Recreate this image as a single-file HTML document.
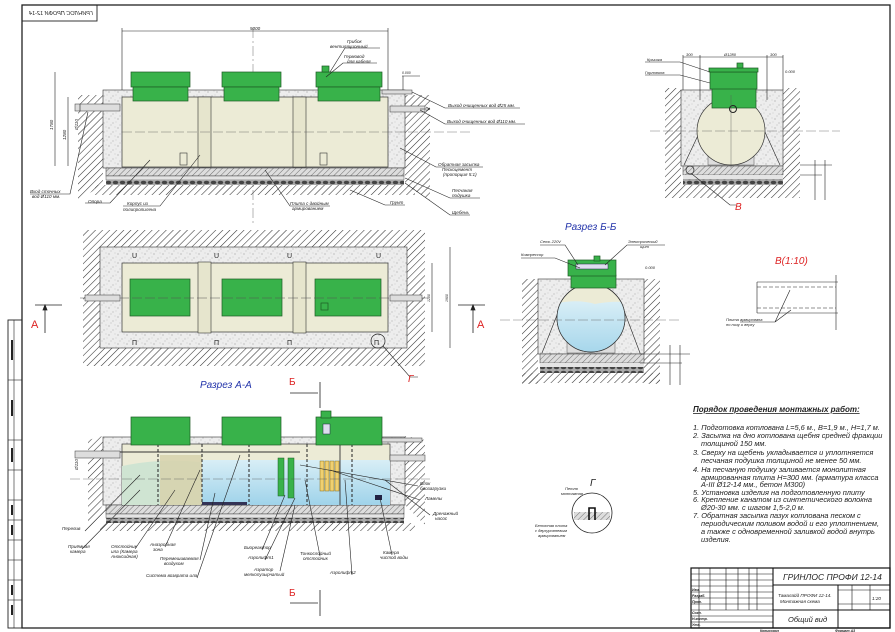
<!DOCTYPE html>
<html><head><meta charset="utf-8">
<style>
html,body{margin:0;padding:0;background:#fff;}
svg{display:block;font-family:"Liberation Sans","DejaVu Sans",sans-serif;}
.l{font-size:4.6px;font-style:italic;fill:#222;}
.t{font-size:7.4px;font-style:italic;fill:#222;}
.ln{stroke:#222;stroke-width:0.6;fill:none;}
</style></head><body>
<svg width="895" height="632" viewBox="0 0 895 632" xmlns="http://www.w3.org/2000/svg">
<defs>
<pattern id="h" width="5" height="5" patternUnits="userSpaceOnUse" patternTransform="rotate(45)"><line x1="0" y1="0" x2="0" y2="5" stroke="#333" stroke-width="1.1"/></pattern>
<pattern id="sp" width="9" height="9" patternUnits="userSpaceOnUse"><rect width="9" height="9" fill="#ededed"/><circle cx="1" cy="2" r="0.5" fill="#777"/><circle cx="5" cy="6" r="0.45" fill="#888"/><circle cx="7" cy="1" r="0.4" fill="#999"/><circle cx="3" cy="8" r="0.4" fill="#777"/><circle cx="8" cy="5" r="0.35" fill="#999"/></pattern>
<pattern id="sl" width="4" height="4" patternUnits="userSpaceOnUse" patternTransform="rotate(45)"><rect width="4" height="4" fill="#ddd"/><line x1="0" y1="0" x2="0" y2="4" stroke="#555" stroke-width="0.8"/></pattern>
<pattern id="gr" width="7" height="5" patternUnits="userSpaceOnUse"><rect width="7" height="5" fill="#aaa"/><ellipse cx="3.5" cy="2.5" rx="2.8" ry="1.8" fill="#444"/></pattern>
<linearGradient id="w" x1="0" y1="0" x2="0" y2="1"><stop offset="0" stop-color="#d8eef6"/><stop offset="1" stop-color="#9fd3ea"/></linearGradient>
</defs>

<rect x="22" y="5" width="868" height="623" fill="none" stroke="#222" stroke-width="1.3"/>
<rect x="8" y="320" width="14" height="308" fill="none" stroke="#222" stroke-width="0.9"/>
<line x1="14" y1="320" x2="14" y2="628" stroke="#222" stroke-width="0.6"/>
<g stroke="#222" stroke-width="0.6">
<line x1="8" y1="380" x2="22" y2="380"/><line x1="8" y1="440" x2="22" y2="440"/><line x1="8" y1="470" x2="22" y2="470"/><line x1="8" y1="500" x2="22" y2="500"/><line x1="8" y1="520" x2="22" y2="520"/><line x1="8" y1="540" x2="22" y2="540"/><line x1="8" y1="560" x2="22" y2="560"/><line x1="8" y1="580" x2="22" y2="580"/><line x1="8" y1="600" x2="22" y2="600"/></g>
<rect x="11" y="340" width="2" height="20" fill="#222"/><rect x="11" y="400" width="2" height="16" fill="#222"/><rect x="11" y="448" width="2" height="14" fill="#222"/><rect x="11" y="505" width="2" height="10" fill="#222"/><rect x="11" y="525" width="2" height="10" fill="#222"/><rect x="11" y="585" width="2" height="10" fill="#222"/><rect x="11" y="605" width="2" height="10" fill="#222"/>

<rect x="22" y="5" width="75" height="16" fill="none" stroke="#222" stroke-width="0.9"/>
<text transform="translate(93,15) scale(-1,1)" class="l" style="font-size:5.5px">ГРИНЛОС ПРОФИ 12-14</text>

<!-- SIDE VIEW -->
<line x1="253" y1="28" x2="253" y2="225" stroke="#444" stroke-width="0.4" stroke-dasharray="10,3,2,3"/>
<line class="ln" x1="122" y1="31" x2="388" y2="31"/><line class="ln" x1="122" y1="28" x2="122" y2="95"/><line class="ln" x1="388" y1="28" x2="388" y2="95"/>
<text x="250" y="30" class="l">5000</text>
<path d="M78 95 L103 95 L103 185 L78 200 Z" fill="url(#h)"/>
<path d="M405 95 L430 95 L430 200 L405 185 Z" fill="url(#h)"/>
<rect x="103" y="90" width="302" height="78" fill="url(#sp)" stroke="#333" stroke-width="0.6"/>
<rect x="106" y="168" width="298" height="8" fill="url(#sl)" stroke="#333" stroke-width="0.5"/>
<rect x="106" y="176" width="298" height="4" fill="#e4e4e4" stroke="#333" stroke-width="0.4"/>
<rect x="106" y="180" width="298" height="5" fill="url(#gr)"/>
<rect x="95" y="185" width="320" height="10" fill="url(#h)"/>
<rect x="122" y="97" width="266" height="70" fill="#ecebd6" stroke="#333" stroke-width="0.7"/>
<rect x="198" y="97" width="13" height="70" fill="#e6e5cd" stroke="#333" stroke-width="0.6"/>
<rect x="293" y="97" width="13" height="70" fill="#e6e5cd" stroke="#333" stroke-width="0.6"/>
<rect x="180" y="153" width="7" height="12" fill="none" stroke="#333" stroke-width="0.6"/>
<rect x="320" y="153" width="7" height="12" fill="none" stroke="#333" stroke-width="0.6"/>
<line x1="122" y1="132" x2="470" y2="132" stroke="#555" stroke-width="0.4" stroke-dasharray="10,3"/>
<g fill="#38b24a" stroke="#1d5a24" stroke-width="0.7">
<rect x="131" y="72" width="59" height="15"/><rect x="133" y="87" width="55" height="14"/>
<rect x="222" y="72" width="59" height="15"/><rect x="224" y="87" width="55" height="14"/>
<rect x="316" y="72" width="66" height="15"/><rect x="318" y="87" width="62" height="14"/>
<rect x="322" y="66" width="7" height="6"/></g>
<rect x="75" y="104" width="45" height="7" fill="#ddd" stroke="#333" stroke-width="0.5"/>
<rect x="390" y="106" width="35" height="6" fill="#ddd" stroke="#333" stroke-width="0.5"/>
<rect x="382" y="90" width="30" height="4" fill="#ddd" stroke="#333" stroke-width="0.5"/>
<path d="M420 109 l10 0 l-4 -2 M430 109 l-4 2" class="ln"/>
<line class="ln" x1="55" y1="72" x2="55" y2="166"/><line class="ln" x1="68" y1="97" x2="68" y2="166"/><line class="ln" x1="80" y1="104" x2="80" y2="111"/>
<text transform="translate(53,130) rotate(-90)" class="l">1780</text>
<text transform="translate(66,140) rotate(-90)" class="l">1280</text>
<text transform="translate(78,130) rotate(-90)" class="l">Ø110</text>
<g class="l">
<text x="347" y="43">Грибок</text><text x="330" y="48">вентиляционный</text>
<text x="344" y="58">Гермовод</text><text x="347" y="63">для кабеля</text>
<text x="448" y="107">Выход очищенных вод Ø25 мм.</text>
<text x="447" y="123">Выход очищенных вод Ø110 мм.</text>
<text x="438" y="166">Обратная засыпка</text><text x="442" y="171">Пескоцемент</text><text x="443" y="176">(пропорция 5:1)</text>
<text x="452" y="192">Песчаная</text><text x="452" y="197">подушка</text>
<text x="452" y="214">Щебень</text>
<text x="390" y="204">Грунт</text>
<text x="290" y="205">Плита с двойным</text><text x="292" y="210">армированием</text>
<text x="127" y="205">Корпус из</text><text x="123" y="211">полипропилена</text>
<text x="88" y="203">Опора</text>
<text x="30" y="193">Вход сточных</text><text x="32" y="198">вод Ø110 мм.</text>
</g>
<g class="ln">
<path d="M330 72 L345 48 L380 48"/><path d="M326 77 L343 63 L377 63"/>
<path d="M412 92 L445 108 L520 108"/><path d="M420 110 L445 124 L525 124"/>
<path d="M400 148 L436 167 L483 167"/><path d="M405 178 L450 198 L480 198"/>
<path d="M405 183 L450 215 L470 215"/><path d="M350 190 L385 205 L405 205"/>
<path d="M265 170 L290 206 L330 206"/><path d="M200 155 L160 206 L123 206"/>
<path d="M150 160 L110 203 L85 203"/><path d="M88 112 L70 194 L30 194"/>
</g>
<text x="402" y="74" class="l" style="font-size:3.5px">0.000</text>
<line class="ln" x1="402" y1="76" x2="420" y2="76"/><line class="ln" x1="403" y1="76" x2="403" y2="90"/>

<!-- PLAN VIEW -->
<rect x="83" y="230" width="342" height="136" fill="url(#h)"/>
<rect x="100" y="247" width="307" height="101" fill="url(#sp)" stroke="#333" stroke-width="0.6"/>
<rect x="122" y="263" width="266" height="69" fill="#ecebd6" stroke="#333" stroke-width="0.7"/>
<g fill="#38b24a" stroke="#1d5a24" stroke-width="0.7">
<rect x="130" y="279" width="60" height="37"/><rect x="222" y="279" width="60" height="37"/><rect x="315" y="279" width="66" height="37"/></g>
<rect x="321" y="303" width="7" height="7" fill="none" stroke="#1d5a24" stroke-width="0.7"/>
<rect x="198" y="262" width="13" height="71" fill="#e6e5cd" stroke="#333" stroke-width="0.6"/>
<rect x="293" y="262" width="13" height="71" fill="#e6e5cd" stroke="#333" stroke-width="0.6"/>
<line x1="80" y1="298" x2="430" y2="298" stroke="#555" stroke-width="0.5" stroke-dasharray="10,3"/>
<rect x="85" y="295" width="35" height="6" fill="#ddd" stroke="#333" stroke-width="0.5"/>
<rect x="390" y="295" width="32" height="6" fill="#ddd" stroke="#333" stroke-width="0.5"/>
<g class="l" style="font-size:7px;font-style:normal"><text x="132" y="258">U</text><text x="214" y="258">U</text><text x="287" y="258">U</text><text x="376" y="258">U</text>
<text x="132" y="345">Π</text><text x="214" y="345">Π</text><text x="287" y="345">Π</text><text x="374" y="345">Π</text></g>
<circle cx="378" cy="341" r="7" fill="none" stroke="#222" stroke-width="0.7"/>
<path d="M383 346 L410 377 L418 377" class="ln"/>
<text x="408" y="382" font-size="10" font-style="italic" fill="#d22">Г</text>
<line class="ln" x1="432" y1="263" x2="432" y2="332"/><line class="ln" x1="450" y1="247" x2="450" y2="348"/>
<text transform="translate(430,302) rotate(-90)" class="l" style="font-size:3.5px">1280</text>
<text transform="translate(448,302) rotate(-90)" class="l" style="font-size:3.5px">1900</text>
<path d="M35 305 L62 305 M45 305 L45 333 M45 305 l-2 5 l4 0 z" stroke="#222" stroke-width="0.8" fill="#222"/>
<path d="M458 305 L485 305 M473 305 L473 333 M473 305 l-2 5 l4 0 z" stroke="#222" stroke-width="0.8" fill="#222"/>
<text x="31" y="328" font-size="11" fill="#d22">А</text><text x="477" y="328" font-size="11" fill="#d22">А</text>

<text x="200" y="388" font-size="10" font-style="italic" fill="#2233aa">Разрез А-А</text>
<text x="289" y="385" font-size="10" fill="#d22">Б</text>
<path d="M290 393 L318 393 M320 382 L320 408" stroke="#222" stroke-width="0.8"/>
<text x="289" y="596" font-size="10" fill="#d22">Б</text>
<path d="M290 603 L318 603 M320 590 L320 616" stroke="#222" stroke-width="0.8"/>

<!-- SECTION A-A -->
<path d="M88 440 L103 436 L103 505 L88 525 Z" fill="url(#h)"/>
<path d="M405 436 L425 440 L425 525 L405 505 Z" fill="url(#h)"/>
<rect x="103" y="437" width="302" height="68" fill="url(#sp)" stroke="#333" stroke-width="0.6"/>
<rect x="106" y="505" width="298" height="9" fill="url(#sl)" stroke="#333" stroke-width="0.5"/>
<rect x="106" y="514" width="298" height="4" fill="#e4e4e4" stroke="#333" stroke-width="0.4"/>
<rect x="106" y="518" width="298" height="5" fill="url(#gr)"/>
<rect x="100" y="523" width="315" height="8" fill="url(#h)"/>
<rect x="122" y="444" width="268" height="61" fill="#ecebd6" stroke="#333" stroke-width="0.7"/>
<path d="M122 466 Q160 458 200 462 L202 505 L122 505 Z" fill="#cfe4d2"/>
<rect x="160" y="455" width="42" height="50" fill="#d7d2ad" opacity="0.85"/>
<rect x="202" y="460" width="188" height="45" fill="url(#w)"/>
<g stroke="#333" stroke-width="1.1" stroke-dasharray="3,2"><line x1="158" y1="444" x2="158" y2="505"/><line x1="202" y1="444" x2="202" y2="505"/><line x1="249" y1="444" x2="249" y2="505"/><line x1="307" y1="444" x2="307" y2="505"/><line x1="352" y1="444" x2="352" y2="505"/></g>
<line x1="340" y1="444" x2="340" y2="505" stroke="#444" stroke-width="1"/>
<rect x="278" y="458" width="6" height="38" fill="#38b24a" stroke="#1d5a24" stroke-width="0.5"/>
<rect x="288" y="458" width="6" height="40" fill="#38b24a" stroke="#1d5a24" stroke-width="0.5"/>
<g fill="#f0d070" stroke="#8a7020" stroke-width="0.5"><rect x="320" y="461" width="4" height="30"/><rect x="325" y="461" width="4" height="30"/><rect x="330" y="461" width="4" height="30"/><rect x="335" y="461" width="4" height="30"/></g>
<rect x="202" y="502" width="45" height="3" fill="#335"/>
<rect x="375" y="495" width="7" height="5" fill="#224"/>
<line x1="120" y1="452" x2="300" y2="452" stroke="#333" stroke-width="1"/>
<g fill="#38b24a" stroke="#1d5a24" stroke-width="0.7">
<rect x="131" y="417" width="59" height="28"/><rect x="222" y="417" width="59" height="28"/><rect x="316" y="417" width="66" height="28"/><rect x="321" y="411" width="10" height="7"/></g>
<rect x="323" y="424" width="7" height="10" fill="#dde" stroke="#224" stroke-width="0.5"/>
<rect x="75" y="451" width="45" height="7" fill="#ddd" stroke="#333" stroke-width="0.5"/>
<rect x="390" y="455" width="35" height="6" fill="#ddd" stroke="#333" stroke-width="0.5"/>
<rect x="382" y="438" width="40" height="4" fill="#ddd" stroke="#333" stroke-width="0.5"/>
<line x1="70" y1="479" x2="430" y2="479" stroke="#555" stroke-width="0.4" stroke-dasharray="10,3"/>
<text transform="translate(78,470) rotate(-90)" class="l">Ø110</text>
<g class="l">
<text x="62" y="530">Перелив</text>
<text x="68" y="548">Приёмная</text><text x="70" y="553">камера</text>
<text x="111" y="548">Отстойник</text><text x="111" y="553">ила (Камера</text><text x="111" y="558">Аноксидная)</text>
<text x="150" y="546">Анаэробная</text><text x="153" y="551">зона</text>
<text x="160" y="560">Перемешиваемая</text><text x="164" y="565">воздухом</text>
<text x="146" y="577">Система возврата ила</text>
<text x="244" y="549">Биореактор</text>
<text x="248" y="559">Аэролифт1</text>
<text x="254" y="571">Аэратор</text><text x="244" y="576">мелкопузырчатый</text>
<text x="300" y="555">Тонкослойный</text><text x="303" y="560">отстойник</text>
<text x="330" y="574">Аэролифт2</text>
<text x="383" y="554">Камера</text><text x="380" y="559">чистой воды</text>
<text x="420" y="485">Блок</text><text x="420" y="490">биозагрузки</text>
<text x="425" y="500">Ламелы</text>
<text x="433" y="515">Дренажный</text><text x="435" y="520">насос</text>
</g>
<g class="ln">
<path d="M85 531 L140 475"/><path d="M82 549 L140 490"/><path d="M135 549 L175 490"/><path d="M165 547 L200 470"/>
<path d="M200 560 L215 493"/><path d="M197 578 L240 455"/><path d="M262 550 L285 495"/><path d="M265 560 L295 498"/>
<path d="M280 571 L295 505"/><path d="M320 556 L305 480"/><path d="M352 575 L345 480"/><path d="M392 555 L380 498"/>
<path d="M418 486 L300 465"/><path d="M420 500 L330 470"/><path d="M430 515 L385 480"/>
</g>

<!-- RIGHT TOP VIEW -->
<rect x="665" y="88" width="16" height="110" fill="url(#h)"/>
<rect x="783" y="88" width="17" height="110" fill="url(#h)"/>
<rect x="681" y="185" width="102" height="13" fill="url(#h)"/>
<rect x="681" y="90" width="102" height="76" fill="url(#sp)" stroke="#333" stroke-width="0.6"/>
<rect x="683" y="166" width="100" height="9" fill="url(#sl)" stroke="#333" stroke-width="0.5"/>
<rect x="683" y="175" width="100" height="4" fill="#e4e4e4"/>
<rect x="683" y="179" width="100" height="6" fill="url(#gr)"/>
<path d="M684 165 L710 110 M780 165 L755 110" class="ln"/>
<rect x="708" y="155" width="46" height="10" fill="#ddd" stroke="#555" stroke-width="0.5"/>
<circle cx="731" cy="131" r="34" fill="#ecebd6" stroke="#333" stroke-width="0.7"/>
<rect x="712" y="88" width="44" height="20" fill="#38b24a" stroke="#1d5a24" stroke-width="0.7"/>
<rect x="710" y="72" width="47" height="17" fill="#38b24a" stroke="#1d5a24" stroke-width="0.7"/>
<rect x="709" y="68" width="49" height="4" fill="#38b24a" stroke="#1d5a24" stroke-width="0.7"/>
<rect x="737" y="63" width="6" height="5" fill="#38b24a" stroke="#1d5a24" stroke-width="0.7"/>
<circle cx="733" cy="109" r="3.5" fill="none" stroke="#222" stroke-width="1"/>
<line x1="650" y1="131" x2="840" y2="131" stroke="#555" stroke-width="0.4" stroke-dasharray="10,3"/>
<line x1="731" y1="95" x2="731" y2="168" stroke="#555" stroke-width="0.4"/>
<circle cx="690" cy="170" r="4" fill="none" stroke="#222" stroke-width="0.7"/>
<path d="M692 174 L730 205 L736 205" class="ln"/>
<text x="735" y="210" font-size="10" font-style="italic" fill="#d22">В</text>
<g class="ln"><line x1="683" y1="57" x2="783" y2="57"/><line x1="683" y1="55" x2="683" y2="90"/><line x1="700" y1="55" x2="700" y2="100"/><line x1="767" y1="55" x2="767" y2="100"/><line x1="783" y1="55" x2="783" y2="90"/>
<line x1="800" y1="165" x2="832" y2="165"/><line x1="800" y1="175" x2="822" y2="175"/><line x1="815" y1="160" x2="815" y2="200"/><line x1="825" y1="160" x2="825" y2="200"/>
<path d="M645 62 L680 62 L710 72"/><path d="M645 75 L680 75 L710 83"/></g>
<g class="l" style="font-size:4px"><text x="686" y="56">300</text><text x="724" y="56">Ø1280</text><text x="770" y="56">300</text>
<text x="647" y="61">Крышка</text><text x="645" y="74">Горловина</text><text x="785" y="73">0.000</text></g>

<!-- SECTION Б-Б -->
<text x="565" y="230" font-size="10" font-style="italic" fill="#2233aa">Разрез Б-Б</text>
<rect x="522" y="279" width="16" height="105" fill="url(#h)"/><rect x="644" y="279" width="16" height="105" fill="url(#h)"/>
<rect x="522" y="373" width="138" height="10" fill="url(#h)"/>
<rect x="538" y="279" width="106" height="75" fill="url(#sp)" stroke="#333" stroke-width="0.6"/>
<rect x="540" y="354" width="104" height="9" fill="url(#sl)" stroke="#333" stroke-width="0.5"/>
<rect x="540" y="363" width="104" height="4" fill="#e4e4e4"/>
<rect x="540" y="367" width="104" height="6" fill="url(#gr)"/>
<path d="M542 353 L563 300 M640 353 L620 300" class="ln"/>
<rect x="567" y="342" width="48" height="11" fill="#ddd" stroke="#555" stroke-width="0.5"/>
<clipPath id="cc"><circle cx="591" cy="318" r="34"/></clipPath>
<circle cx="591" cy="318" r="34" fill="#ecebd6" stroke="#333" stroke-width="0.7"/>
<path d="M550 305 Q575 298 595 304 Q615 300 632 303 L632 360 L550 360 Z" fill="url(#w)" clip-path="url(#cc)"/>
<circle cx="591" cy="318" r="34" fill="none" stroke="#333" stroke-width="0.7"/>
<rect x="571" y="275" width="45" height="13" fill="#38b24a" stroke="#1d5a24" stroke-width="0.7"/>
<rect x="568" y="260" width="48" height="16" fill="#38b24a" stroke="#1d5a24" stroke-width="0.7"/>
<rect x="594" y="256" width="6" height="5" fill="#38b24a" stroke="#1d5a24" stroke-width="0.7"/>
<rect x="576" y="264" width="32" height="5" fill="#dde" stroke="#224" stroke-width="0.5"/>
<line x1="500" y1="320" x2="680" y2="320" stroke="#555" stroke-width="0.4" stroke-dasharray="10,3"/>
<g class="l" style="font-size:4px"><text x="540" y="243">Сеть 220V</text><text x="521" y="256">Компрессор</text><text x="628" y="243">Электрический</text><text x="640" y="248">щит</text><text x="645" y="269">0.000</text></g>
<g class="ln"><path d="M540 245 L565 245 L578 265"/><path d="M521 258 L555 258 L580 268"/><path d="M665 245 L627 245 L605 265"/>
<line x1="640" y1="354" x2="690" y2="354"/><line x1="640" y1="363" x2="682" y2="363"/><line x1="670" y1="345" x2="670" y2="385"/><line x1="680" y1="345" x2="680" y2="385"/></g>

<!-- В(1:10) -->
<text x="775" y="264" font-size="10" font-style="italic" fill="#d22">В(1:10)</text>
<g class="ln"><line x1="757" y1="282" x2="838" y2="282"/><line x1="757" y1="313" x2="838" y2="313"/><line x1="757" y1="282" x2="757" y2="313"/>
<line x1="757" y1="287" x2="836" y2="287" stroke-dasharray="4,2"/><line x1="757" y1="308" x2="836" y2="308" stroke-dasharray="4,2"/>
<path d="M775 322 L790 290 M775 322 L791 310 M740 322 L775 322"/><line x1="836" y1="275" x2="836" y2="330"/></g>
<g class="l" style="font-size:4px"><text x="726" y="321">Плита армирована</text><text x="726" y="326">по низу и верху</text></g>

<!-- Г detail -->
<text x="590" y="486" font-size="10" font-style="italic" fill="#222">Г</text>
<circle cx="592" cy="513" r="20" fill="#fff" stroke="#222" stroke-width="0.8"/>
<rect x="574" y="512" width="36" height="8" fill="url(#sl)"/>
<path d="M589 520 L589 508 L595 508 L595 520" stroke="#111" stroke-width="1.6" fill="none"/>
<g class="l" style="font-size:4px"><text x="565" y="490">Петля</text><text x="561" y="495">монтажная</text><text x="535" y="527">Бетонная плита</text><text x="535" y="532">с двухуровневым</text><text x="538" y="537">армированием</text></g>

<!-- Work order -->
<text x="693" y="412" font-size="8" font-weight="bold" font-style="italic" fill="#222" text-decoration="underline">Порядок проведения монтажных работ:</text>
<g class="t">
<text x="693" y="430">1. Подготовка котлована L=5,6 м., B=1,9 м., H=1,7 м.</text>
<text x="693" y="438">2. Засыпка на дно котлована щебня средней фракции</text>
<text x="701" y="446">толщиной 150 мм.</text>
<text x="693" y="455">3. Сверху на щебень укладывается и уплотняется</text>
<text x="701" y="463">песчаная подушка толщиной не менее 50 мм.</text>
<text x="693" y="472">4. На песчаную подушку заливается монолитная</text>
<text x="701" y="480">армированная плита H=300 мм. (арматура класса</text>
<text x="701" y="487">A-III Ø12-14 мм., бетон М300)</text>
<text x="693" y="495">5. Установка изделия на подготовленную плиту</text>
<text x="693" y="502">6. Крепление канатом из синтетического волокна</text>
<text x="701" y="510">Ø20-30 мм. с шагом 1,5-2,0 м.</text>
<text x="693" y="518">7. Обратная засыпка пазух котлована песком с</text>
<text x="701" y="526">периодическим поливом водой и его уплотнением,</text>
<text x="701" y="534">а также с одновременной заливкой водой внутрь</text>
<text x="701" y="542">изделия.</text>
</g>

<!-- Title block -->
<g stroke="#111" fill="none">
<rect x="691" y="568" width="199" height="60" stroke-width="1.2"/>
<line x1="773" y1="568" x2="773" y2="628" stroke-width="1.1"/>
<line x1="773" y1="585" x2="890" y2="585" stroke-width="1"/>
<line x1="773" y1="610" x2="890" y2="610" stroke-width="1"/>
<line x1="838" y1="585" x2="838" y2="628" stroke-width="1"/>
<line x1="852" y1="585" x2="852" y2="610" stroke-width="0.6"/><line x1="870" y1="585" x2="870" y2="610" stroke-width="0.6"/>
<line x1="838" y1="590" x2="890" y2="590" stroke-width="0.6"/><line x1="838" y1="604" x2="890" y2="604" stroke-width="0.6"/>
<g stroke-width="0.6"><line x1="691" y1="574" x2="773" y2="574"/><line x1="691" y1="580" x2="773" y2="580"/><line x1="691" y1="586" x2="773" y2="586"/><line x1="691" y1="592" x2="773" y2="592"/><line x1="691" y1="598" x2="773" y2="598"/><line x1="691" y1="604" x2="773" y2="604"/><line x1="691" y1="610" x2="773" y2="610"/><line x1="691" y1="616" x2="773" y2="616"/><line x1="691" y1="622" x2="773" y2="622"/>
<line x1="699" y1="568" x2="699" y2="628"/><line x1="710" y1="568" x2="710" y2="610"/><line x1="726" y1="568" x2="726" y2="610"/><line x1="738" y1="568" x2="738" y2="610"/><line x1="749" y1="568" x2="749" y2="610"/><line x1="757" y1="568" x2="757" y2="610"/></g>
</g>
<text x="783" y="580" font-size="8.5" font-style="italic" fill="#222">ГРИНЛОС ПРОФИ 12-14</text>
<text x="778" y="597" class="l" style="font-size:4.6px">Тамалайд ПРОФИ 12-14.</text>
<text x="780" y="603" class="l" style="font-size:4.6px">Монтажная схема</text>
<text x="788" y="622" font-size="7.5" font-style="italic" fill="#222">Общий вид</text>
<text x="872" y="600" class="l" style="font-size:4.6px">1:20</text>
<g class="l" style="font-size:3.5px;font-weight:bold"><text x="692" y="591">Изм.</text><text x="692" y="597">Разраб.</text><text x="692" y="603">Пров.</text><text x="692" y="614">Согл.</text><text x="692" y="620">Н.контр.</text><text x="692" y="626">Утв.</text>
<text x="760" y="632">Копировал</text><text x="835" y="632">Формат А3</text></g>
</svg>
</body></html>
